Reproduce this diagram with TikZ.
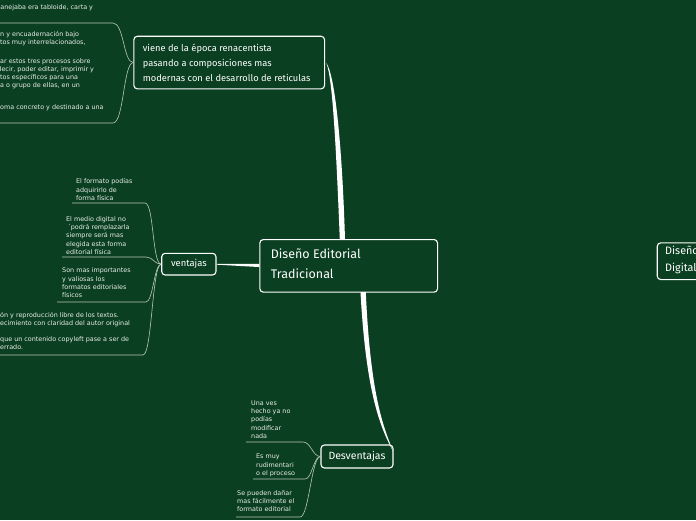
\documentclass[tikz,border=0pt]{standalone}
\usepackage{fontspec}
\setmainfont{Fira Sans}
\newfontfamily\leaffamily{DejaVu Sans}
\usetikzlibrary{calc}
\definecolor{bg}{RGB}{11,63,33}
\definecolor{leafline}{RGB}{185,200,185}
\definecolor{leaftxt}{RGB}{232,238,232}
\newcommand\leafbox[1]{\parbox[t]{220pt}{\raggedright\leaffamily\fontsize{6.4}{8.2}\selectfont #1}}
\begin{document}
\begin{tikzpicture}[x=1pt,y=-1pt,
  mainbox/.style={draw=white, line width=1.1pt, rounded corners=3.5pt, fill=bg, text=white},
  maintext/.style={anchor=west, inner sep=0pt, text=white, align=left},
  leaf/.style={anchor=base west, inner sep=0pt, text=leaftxt},
  leafln/.style={draw=leafline, line width=0.6pt},
  trunk/.style={fill=white, draw=none}]
\useasboundingbox (0,0) rectangle (696,520);
\clip (0,0) rectangle (696,520);
\fill[bg] (0,0) rectangle (696,520);

% ---------- main boxes ----------
\node[mainbox, anchor=north west, minimum width=177.7pt, minimum height=52.6pt] (center) at (259.3,239) {};
\node[maintext, font=\fontsize{12.5}{20}\selectfont] (centertext) at ($(center.west)+(11.4,-2)$) {Diseño Editorial\\Tradicional};

\node[mainbox, anchor=north west, minimum width=190.7pt, minimum height=52.6pt] (top) at (133.3,35.7) {};
\node[maintext, font=\fontsize{9.3}{15}\selectfont] (toptext) at ($(top.west)+(9.4,0)$) {viene de la época renacentista\\pasando a composiciones mas\\modernas con el desarrollo de reticulas};

\node[mainbox, minimum width=54.3pt, minimum height=21.7pt, inner sep=1pt, font=\fontsize{9.4}{11}\selectfont] (ven) at (188.85,264.15) {ventajas};
\node[mainbox, minimum width=72pt, minimum height=23pt, inner sep=1pt, font=\fontsize{10.5}{12}\selectfont] (des) at (357,456.5) {Desventajas};

\node[mainbox, anchor=north west, minimum width=80pt, minimum height=36.7pt] (dig) at (656.7,242.3) {};
\node[maintext, font=\fontsize{10.8}{17}\selectfont] (digtext) at ($(dig.west)+(8.3,-1)$) {Diseño\\Digital};

% ---------- trunks ----------
\fill[trunk] ($(center.north west)+(80.5,0.5)$) .. controls +(-4,-100) and +(6,14) .. ($(top.east)+(1.2,0.5)$)
  .. controls +(8,10) and +(-3,-100) .. ($(center.north west)+(85.7,0.5)$) -- cycle;
\fill[trunk] ($(center.south west)+(101.2,-0.5)$) .. controls +(6,110) and +(-10,-20) .. ($(des.east)+(-0.5,-5)$)
  .. controls +(-8,-22) and +(5,110) .. ($(center.south west)+(106.5,-0.5)$) -- cycle;
\fill[trunk] ($(ven.east)+(0,-0.4)$) -- ($(center.west)+(0,-2)$) -- ($(center.west)+(0,1.2)$) -- ($(ven.east)+(0,0.5)$) -- cycle;

% ---------- top node leaves ----------
\coordinate (t1a) at (0,23);  \coordinate (t1b) at (113,23);
\coordinate (t2a) at (0,123); \coordinate (t2b) at (113,123);
\draw[leafln] (t1a) -- (t1b) .. controls +(11,0) and +(-10,0) .. (top.west);
\draw[leafln] (t2a) -- (t2b) .. controls +(11,0) and +(-10,0) .. (top.west);
\node[leaf] (tp0) at (0.3,9.2) {\leafbox{anejaba era tabloide, carta y}};
\node[leaf] (tp1) at (0,36.5) {\leafbox{n y encuadernación bajo\\tos muy interrelacionados,}};
\node[leaf] (tp2) at (0,63.2) {\leafbox{ar estos tres procesos sobre\\\hspace*{-2.7pt}decir, poder editar, imprimir y\\tos específicos para una\\a o grupo de ellas, en un}};
\node[leaf] (tp3) at (0,109.9) {\leafbox{oma concreto y destinado a una}};

% ---------- ventajas leaves ----------
\coordinate (v1a) at (72,203);  \coordinate (v1b) at (145,203);
\coordinate (v2a) at (62,257);  \coordinate (v2b) at (146,257);
\coordinate (v3a) at (57,302);  \coordinate (v3b) at (146,302);
\coordinate (v4a) at (0,355);   \coordinate (v4b) at (143,355);
\draw[leafln] (v1a) -- (v1b) .. controls +(9,0) and +(-9,0) .. (ven.west);
\draw[leafln] (v2a) -- (v2b) .. controls +(7,0) and +(-7,0) .. (ven.west);
\draw[leafln] (v3a) -- (v3b) .. controls +(7,0) and +(-7,0) .. (ven.west);
\draw[leafln] (v4a) -- (v4b) .. controls +(9,0) and +(-9,0) .. (ven.west);
\node[leaf] (vl1) at (76,183.9) {\leafbox{El formato podías\\adquirirlo de\\forma física}};
\node[leaf] (vl2) at (66,221.5) {\leafbox{El medio digital no\\\hspace*{1.5pt}´podrá remplazarla\\siempre será mas\\elegida esta forma\\editorial física}};
\node[leaf] (vl3) at (62,272.9) {\leafbox{Son mas importantes\\y valiosas los\\formatos editoriales\\físicos}};
\node[leaf] (vl4a) at (0,317.2) {\leafbox{ón y reproducción libre de los textos.\\ecimiento con claridad del autor original}};
\node[leaf] (vl4b) at (0,341.2) {\leafbox{que un contenido copyleft pase a ser de\\errado.}};

% ---------- desventajas leaves ----------
\coordinate (d1a) at (246,442); \coordinate (d1b) at (303,442);
\coordinate (d2a) at (253,479); \coordinate (d2b) at (305,479);
\coordinate (d3a) at (236,517); \coordinate (d3b) at (300,517);
\draw[leafln] (d1a) -- (d1b) .. controls +(8,0) and +(-8,0) .. (des.west);
\draw[leafln] (d2a) -- (d2b) .. controls +(7,0) and +(-7,0) .. (des.west);
\draw[leafln] (d3a) -- (d3b) .. controls +(9,0) and +(-9,0) .. (des.west);
\node[leaf] (dl1) at (251,405.5) {\leafbox{Una ves\\hecho ya no\\podías\\modificar\\nada}};
\node[leaf] (dl2) at (256,458.9) {\leafbox{Es muy\\rudimentari\\o el proceso}};
\node[leaf] (dl3) at (237,495.5) {\leafbox{Se pueden dañar\\mas fácilmente el\\formato editorial}};
\end{tikzpicture}
\end{document}
